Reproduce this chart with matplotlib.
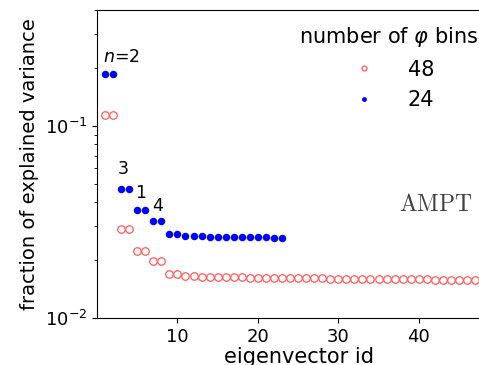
import numpy as np
import matplotlib
matplotlib.use('Agg')
import matplotlib.pyplot as plt

plt.rcParams['mathtext.fontset'] = 'dejavusans'

# fraction of explained variance per eigenvector
bins48_head = [0.114, 0.114, 0.0290, 0.0290, 0.0223, 0.0223, 0.0198, 0.0198, 0.0169, 0.0169]
bins48_tail = [0.0165, 0.0165, 0.0164, 0.0164, 0.0164, 0.0163, 0.0163, 0.0163, 0.0162, 0.0162,
               0.0162, 0.0162, 0.0162, 0.0161, 0.0161, 0.0161, 0.0161, 0.0161, 0.0160, 0.0160,
               0.0160, 0.0160, 0.0160, 0.0160, 0.0159, 0.0159, 0.0159, 0.0159, 0.0159, 0.0159,
               0.0159, 0.0158, 0.0158, 0.0158, 0.0158, 0.0158, 0.0158]
bins24_head = [0.185, 0.185, 0.0469, 0.0469, 0.0365, 0.0365, 0.0320, 0.0320, 0.0274, 0.0274]
bins24_tail = [0.0267, 0.0266, 0.0266, 0.0265, 0.0265, 0.0265, 0.0264, 0.0264, 0.0264, 0.0263,
               0.0263, 0.0262, 0.0262]

harmonic_labels = ['$n$=2', '3', '1', '4']
harmonic_x = [0.8, 3.3, 5.4, 7.5]
harmonic_y = [0.227, 0.0596, 0.0447, 0.0383]

y48 = np.array(bins48_head + bins48_tail)
y24 = np.array(bins24_head + bins24_tail)
x48 = np.arange(1, len(y48) + 1)
x24 = np.arange(1, len(y24) + 1)

fig = plt.figure(figsize=(4.79, 3.65), dpi=100)
# the axes run a bit past the right edge of the picture (cropped original)
ax = fig.add_axes([97 / 479, 47 / 365, 403 / 479, 308 / 365])

ax.plot(x48, y48, 'o', ls='none', mfc='none', mec='#ff5a5a', mew=0.9, ms=5.4, label='48')
ax.plot(x24, y24, 'o', ls='none', color='#0000ff', ms=5.4, mew=0, label='24')

for i, lab in enumerate(harmonic_labels):
    ha = 'left' if i == 0 else 'center'
    ax.text(harmonic_x[i], harmonic_y[i], lab, fontsize=12.5, ha=ha, va='center')

fig.text(473 / 479, 1 - 204 / 365, r'$\mathrm{AMPT}$', ha='right', va='center',
         fontsize=17, color='0.25', math_fontfamily='cm')

ax.set_yscale('log')
ax.set_ylim(0.01, 0.4)
ax.set_xlim(0, 50.1)
ax.set_xticks([10, 20, 30, 40])
ax.set_xlabel('eigenvector id', fontsize=15, labelpad=1)
ax.set_ylabel('fraction of explained variance', fontsize=14)
ax.tick_params(labelsize=13)

leg = ax.legend(title=r'number of $\varphi$ bins', loc='upper right', frameon=False,
                fontsize=15, title_fontsize=15, markerscale=0.65, handletextpad=1.1,
                bbox_to_anchor=(487 / 479, 1 - 17 / 365), bbox_transform=fig.transFigure,
                borderaxespad=0)

fig.savefig('out.png', dpi=100)
